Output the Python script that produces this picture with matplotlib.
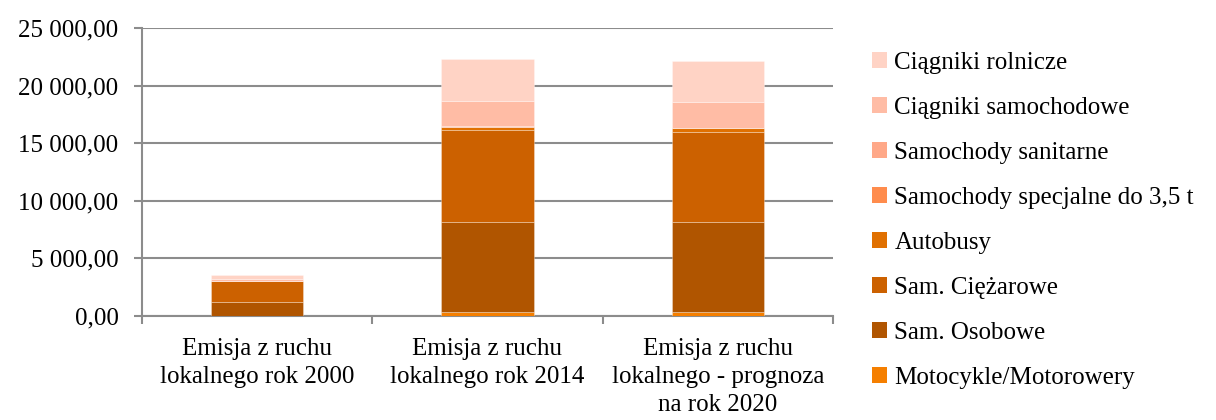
import numpy as np
import matplotlib
matplotlib.use("Agg")
import matplotlib.pyplot as plt
from matplotlib.ticker import FuncFormatter, FixedLocator
from matplotlib.patches import Patch

plt.rcParams["font.family"] = ["Liberation Serif", "DejaVu Serif"]

# -----------------------
# DATA
# -----------------------
categories = [
    "Emisja z ruchu\nlokalnego rok 2000",
    "Emisja z ruchu\nlokalnego rok 2014",
    "Emisja z ruchu\nlokalnego - prognoza\nna rok 2020",
]

series_names = [
    "Motocykle/Motorowery",
    "Sam. Osobowe",
    "Sam. Ciężarowe",
    "Autobusy",
    "Samochody specjalne do 3,5 t",
    "Samochody sanitarne",
    "Ciągniki samochodowe",
    "Ciągniki rolnicze",
]

motocykle = [10, 370, 350]
osobowe = [1205, 7780, 7800]
ciezarowe = [1850, 8010, 7860]
autobusy = [0, 240, 300]
specjalne = [0, 30, 30]
sanitarne = [0, 20, 20]
ciagniki_sam = [110, 2250, 2250]
ciagniki_rol = [405, 3610, 3490]

series = [motocykle, osobowe, ciezarowe, autobusy,
          specjalne, sanitarne, ciagniki_sam, ciagniki_rol]

colors = ["#f57f00", "#b05500", "#cc6100", "#e07000",
          "#ff8c4d", "#ffa888", "#ffbca5", "#ffd3c5"]

# -----------------------
# PLOT
# -----------------------
fig = plt.figure(figsize=(12.16, 4.2), dpi=100)
ax = fig.add_axes([142 / 1216, 1 - 316 / 420, (833 - 142) / 1216, (316 - 28) / 420])

x = np.arange(len(categories))
bottom = np.zeros(len(categories))
for vals, col in zip(series, colors):
    vals = np.array(vals, dtype=float)
    ax.bar(x, vals, width=0.4, bottom=bottom, color=col,
           edgecolor=(1, 1, 1, 0.35), linewidth=0.6, zorder=3)
    bottom += vals

grid_c = "#8c8c8c"
ax.set_ylim(0, 25000)
ax.set_xlim(-0.5, 2.5)
ax.set_yticks(np.arange(0, 25001, 5000))
ax.yaxis.set_major_formatter(
    FuncFormatter(lambda v, p: f"{v:,.2f}".replace(",", " ").replace(".", ","))
)
ax.yaxis.grid(True, color=grid_c, linewidth=1.5, zorder=0)

ax.set_xticks(x)
ax.set_xticklabels(categories, linespacing=1.36)
ax.xaxis.set_minor_locator(FixedLocator([-0.5, 0.5, 1.5, 2.5]))
ax.tick_params(axis="x", which="major", length=0, pad=16, labelsize=18)
ax.tick_params(axis="x", which="minor", length=6, width=1.5, color=grid_c)
ax.tick_params(axis="y", length=6, width=1.5, color=grid_c, pad=11, labelsize=18)

for s in ["top", "right"]:
    ax.spines[s].set_visible(False)
for s in ["left", "bottom"]:
    ax.spines[s].set_color(grid_c)
    ax.spines[s].set_linewidth(1.5)

handles = [Patch(facecolor=c, edgecolor="none") for c in colors][::-1]
labels = series_names[::-1]
fig.legend(handles, labels, loc="upper left", bbox_to_anchor=(872 / 1216, 1 - 52 / 420),
           frameon=False, fontsize=18, handlelength=0.6, handleheight=0.6,
           handletextpad=0.3, labelspacing=0.92, borderpad=0, borderaxespad=0)

fig.savefig("out.png", dpi=100)
